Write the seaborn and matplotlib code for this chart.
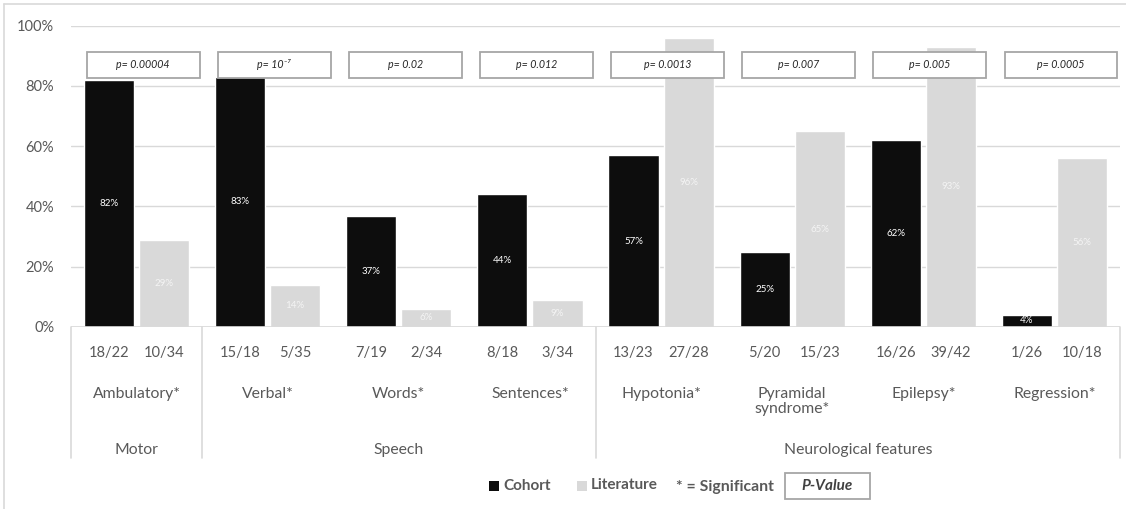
import matplotlib
matplotlib.use("Agg")
import matplotlib.pyplot as plt
from matplotlib.patches import Rectangle
from matplotlib.lines import Line2D
import matplotlib.transforms as mtransforms
import numpy as np
import pandas as pd
import seaborn as sns

# data
features = ["Ambulatory*", "Verbal*", "Words*", "Sentences*",
            "Hypotonia*", "Pyramidal\nsyndrome*", "Epilepsy*", "Regression*"]
cohort_pct = [82, 83, 37, 44, 57, 25, 62, 4]
literature_pct = [29, 14, 6, 9, 96, 65, 93, 56]
cohort_frac = ["18/22", "15/18", "7/19", "8/18", "13/23", "5/20", "16/26", "1/26"]
literature_frac = ["10/34", "5/35", "2/34", "3/34", "27/28", "15/23", "39/42", "10/18"]
p_values = ["p= 0.00004", "p= 10\u207b\u2077", "p= 0.02", "p= 0.012",
            "p= 0.0013", "p= 0.007", "p= 0.005", "p= 0.0005"]
domains = ["Motor", "Speech", "Neurological features"]
domain_span = [(0, 1), (1, 4), (4, 8)]

df = pd.DataFrame({
    "feature": features * 2,
    "source": ["Cohort"] * len(features) + ["Literature"] * len(features),
    "pct": cohort_pct + literature_pct,
})

sns.set_style("white")
plt.rcParams["font.family"] = ["Lato", "DejaVu Sans"]

W, H = 1126, 509
fig = plt.figure(figsize=(W / 100, H / 100), dpi=100)
ax = fig.add_axes([71 / W, (H - 327) / H, (1120 - 71) / W, (327 - 25.7) / H])

black = "#0d0d0d"
grey = "#d9d9d9"
txt = "#595959"

sns.barplot(data=df, x="feature", y="pct", hue="source", order=features,
            hue_order=["Cohort", "Literature"],
            palette={"Cohort": black, "Literature": grey},
            width=0.84, gap=0.09, legend=False, ax=ax, zorder=2)

ax.set_xlim(-0.5, len(features) - 0.5)
ax.set_ylim(0, 100)
ax.set_yticks(range(0, 101, 20))
ax.set_yticklabels([f"{v}%" for v in range(0, 101, 20)], color=txt, fontsize=10.5)
ax.tick_params(axis="y", length=0, pad=12)
ax.set_xticks([])
ax.set_xlabel("")
ax.set_ylabel("")
ax.grid(axis="y", color=grey, lw=1, zorder=0)
ax.set_axisbelow(True)
for s in ax.spines.values():
    s.set_visible(False)

# value labels in the middle of the bars
ax.bar_label(ax.containers[0], labels=[f"{v}%" for v in cohort_pct],
             label_type="center", color="white", fontsize=7)
ax.bar_label(ax.containers[1], labels=[f"{v}%" for v in literature_pct],
             label_type="center", color="#f4f4f4", fontsize=7)

# p-value boxes
for i, p in enumerate(p_values):
    cx = i + 0.05
    ax.add_patch(Rectangle((cx - 0.43, 82.6), 0.86, 8.8, facecolor="white",
                           edgecolor="#a6a6a6", lw=1.3, zorder=5, clip_on=False))
    ax.text(cx, 87.0, p, ha="center", va="center", fontsize=7.7, style="italic",
            color="#262626", zorder=6)

# category axis below the plot
trans = mtransforms.blended_transform_factory(ax.transData, ax.transAxes)
ax_h = 327 - 25.7
for i in range(len(features)):
    ax.text(i - 0.21, -(353 - 327) / ax_h, cohort_frac[i], transform=trans,
            ha="center", va="center", color=txt, fontsize=10.5)
    ax.text(i + 0.21, -(353 - 327) / ax_h, literature_frac[i], transform=trans,
            ha="center", va="center", color=txt, fontsize=10.5)
    ax.text(i, -(387 - 327) / ax_h, features[i], transform=trans, ha="center",
            va="top", color=txt, fontsize=11.3, linespacing=1.1)
for name, (a, b) in zip(domains, domain_span):
    ax.text((a + b - 1) / 2, -(450 - 327) / ax_h, name, transform=trans,
            ha="center", va="center", color=txt, fontsize=11.3)
for xb in [-0.5, 0.5, 3.5, 7.5]:
    ax.add_line(Line2D([xb, xb], [0, -(458 - 327) / ax_h], transform=trans,
                       color=grey, lw=1.2, clip_on=False))
ax.axhline(0, color=grey, lw=1.2, zorder=3)


def fx(px):
    return px / W


def fy(py):
    return 1 - py / H


# legend
fig.add_artist(Rectangle((fx(489), fy(491)), 10 / W, 10 / H, facecolor=black,
                         edgecolor="none", transform=fig.transFigure))
fig.text(fx(503), fy(486), "Cohort", ha="left", va="center", fontsize=11,
         fontweight="bold", color=txt)
fig.add_artist(Rectangle((fx(577), fy(491)), 10 / W, 10 / H, facecolor=grey,
                         edgecolor="none", transform=fig.transFigure))
fig.text(fx(591), fy(485), "Literature", ha="left", va="center", fontsize=11,
         fontweight="bold", color=txt)
fig.text(fx(676), fy(487), "* = Significant", ha="left", va="center", fontsize=11.3,
         fontweight="bold", color=txt)
fig.add_artist(Rectangle((fx(785), fy(499)), 85 / W, 26 / H, facecolor="white",
                         edgecolor="#a6a6a6", lw=1.3, transform=fig.transFigure))
fig.text(fx(827.5), fy(486), "P-Value", ha="center", va="center", fontsize=11,
         fontweight="bold", style="italic", color="#404040")

# outer chart border
fig.add_artist(Line2D([fx(4), fx(4)], [fy(4), 0], color=grey, lw=1.2,
                      transform=fig.transFigure))
fig.add_artist(Line2D([fx(4), 1], [fy(4), fy(4)], color=grey, lw=1.2,
                      transform=fig.transFigure))

fig.savefig("out.png", dpi=100, facecolor="white")
